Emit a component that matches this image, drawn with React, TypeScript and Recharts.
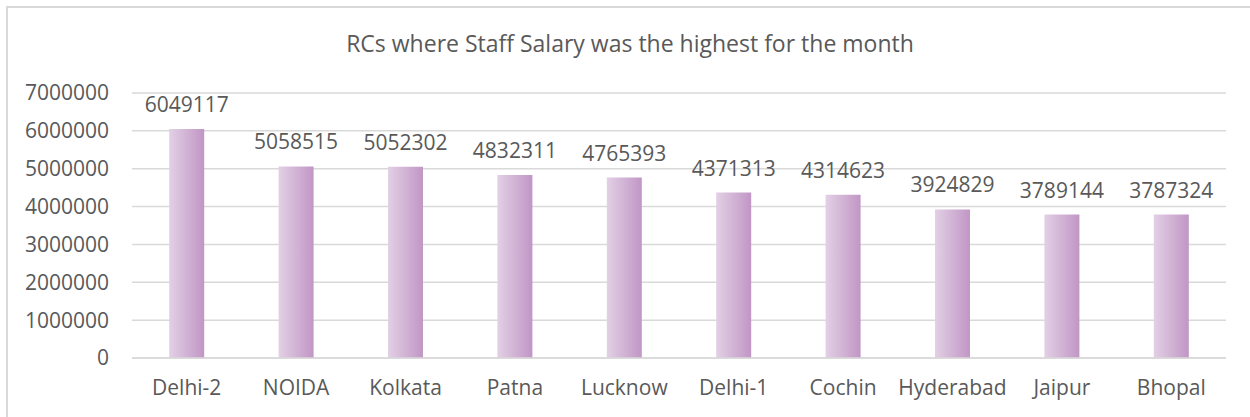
import React from 'react';
import { BarChart, Bar, XAxis, YAxis, CartesianGrid, LabelList } from 'recharts';

const centres = ['Delhi-2', 'NOIDA', 'Kolkata', 'Patna', 'Lucknow', 'Delhi-1', 'Cochin', 'Hyderabad', 'Jaipur', 'Bhopal'];
const salary = [6049117, 5058515, 5052302, 4832311, 4765393, 4371313, 4314623, 3924829, 3789144, 3787324];
const yTicks = [0, 1000000, 2000000, 3000000, 4000000, 5000000, 6000000, 7000000];

const data = centres.map((name, i) => ({ name, salary: salary[i] }));

const FONT = '"Open Sans", sans-serif';
const TEXT = '#595959';

const App: React.FC = () => {
  return (
    <div style={{ position: 'absolute', left: 0, top: 0, width: 1250, height: 417, overflow: 'hidden', fontFamily: FONT }}>
      {/* chart frame, cropped on the right and bottom like the reference */}
      <div
        style={{
          position: 'absolute',
          left: 6,
          top: 6,
          width: 1260,
          height: 430,
          border: '2px solid #d9d9d9',
        }}
      />
      <div
        style={{
          position: 'absolute',
          left: 8,
          width: 1244,
          top: 27,
          textAlign: 'center',
          fontSize: 23,
          color: TEXT,
        }}
      >
        RCs where Staff Salary was the highest for the month
      </div>
      <div style={{ position: 'absolute', left: 8, top: 8 }}>
        <BarChart
          width={1242}
          height={409}
          data={data}
          margin={{ top: 85, right: 24, left: 0, bottom: 0 }}
          barCategoryGap="34%"
        >
          <defs>
            <linearGradient id="barFill" x1="0" y1="0" x2="1" y2="0">
              <stop offset="0%" stopColor="#e2d0e5" />
              <stop offset="100%" stopColor="#c196c5" />
            </linearGradient>
          </defs>
          <CartesianGrid vertical={false} stroke="#d9d9d9" strokeWidth={1.5} />
          <XAxis
            dataKey="name"
            height={59}
            axisLine={{ stroke: '#d9d9d9', strokeWidth: 1.5 }}
            tickLine={false}
            tickSize={0}
            tickMargin={22}
            tick={{ fill: TEXT, fontSize: 21, fontFamily: FONT }}
            interval={0}
          />
          <YAxis
            width={124}
            domain={[0, 7000000]}
            ticks={yTicks}
            axisLine={false}
            tickLine={false}
            tickSize={0}
            tickMargin={23}
            tick={{ fill: TEXT, fontSize: 21, fontFamily: FONT }}
          />
          <Bar dataKey="salary" fill="url(#barFill)" isAnimationActive={false}>
            <LabelList
              dataKey="salary"
              position="top"
              offset={17}
              fill={TEXT}
              fontSize={21}
              fontFamily={FONT}
            />
          </Bar>
        </BarChart>
      </div>
    </div>
  );
};

export default App;
